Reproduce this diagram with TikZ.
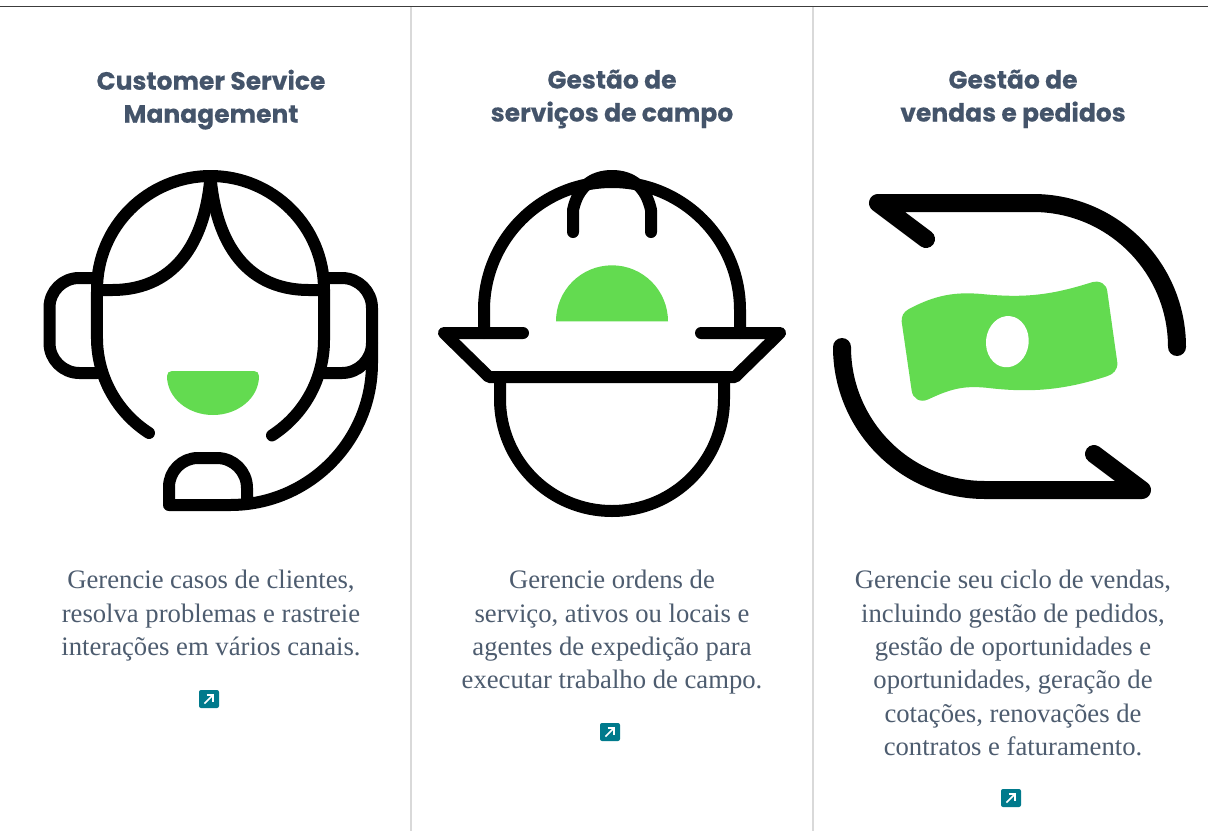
\documentclass[tikz,border=0pt]{standalone}
\usepackage{fontspec}
\setmainfont{Liberation Serif}
\newfontfamily\headfont{Poppins}[BoldFeatures={FakeBold=0.35}]
\definecolor{leaf}{HTML}{63DB50}
\definecolor{teal}{HTML}{007A8C}
\definecolor{headc}{HTML}{44546A}
\definecolor{bodyc}{HTML}{4D5C6F}
\definecolor{rulec}{HTML}{3C3C3C}
\definecolor{sepc}{HTML}{D9D9D9}
\tikzset{
  heading/.style={inner sep=0pt,anchor=north,align=center,text=headc,font=\headfont\bfseries\fontsize{25}{33}\selectfont},
  bodytext/.style={inner sep=0pt,anchor=north,align=center,text=bodyc,font=\fontsize{26.67}{33.4}\selectfont},
  thick icon/.style={line width=12pt,line cap=round,line join=round,draw=black},
  heavy icon/.style={line width=18pt,line cap=round,line join=round,draw=black},
  green shape/.style={fill=leaf,draw=none},
  badge/.style={fill=teal,draw=none,rounded corners=2pt},
  badge arrow/.style={draw=white,line width=1.7pt}
}
\newcommand{\linkbadge}[2]{%
  \fill[badge] (#1-10,#2-9) rectangle (#1+10,#2+9);
  \draw[badge arrow] (#1-4.5,#2+4.5) -- (#1+4,#2-4);
  \draw[badge arrow] (#1-2.5,#2-4) -- (#1+4,#2-4) -- (#1+4,#2+2.5);
}
\begin{document}
\begin{tikzpicture}[x=1pt,y=-1pt]
\useasboundingbox (0,0) rectangle (1208,831);
\fill[white] (0,0) rectangle (1208,831);
% rules
\draw[sepc,line width=1.5pt] (411,6) -- (411,831);
\draw[sepc,line width=1.5pt] (813,6) -- (813,831);
\draw[rulec,line width=1pt] (0,6.5) -- (1208,6.5);
% headings
\node[heading] (h1) at (211,69.5) {Customer Service\\Management};
\node[heading] (h2) at (612,69.5) {Gestão de\\serviços de campo};
\node[heading] (h3) at (1013,69.5) {Gestão de\\vendas e pedidos};
% bodies
\node[bodytext] (b1) at (211,570) {Gerencie casos de clientes,\\resolva problemas e rastreie\\interações em vários canais.};
\node[bodytext] (b2) at (612,570) {Gerencie ordens de\\serviço, ativos ou locais e\\agentes de expedição para\\executar trabalho de campo.};
\node[bodytext] (b3) at (1013,570) {Gerencie seu ciclo de vendas,\\incluindo gestão de pedidos,\\gestão de oportunidades e\\oportunidades, geração de\\cotações, renovações de\\contratos e faturamento.};
% badges
\linkbadge{209}{699}
\linkbadge{610}{732}
\linkbadge{1011}{798}
% icon 1: agent
\fill[green shape] (167,376) .. controls (167,373) and (169,371) .. (172,371) -- (254,371) .. controls (257,371) and (259,373) .. (259,376)
  .. controls (259,398) and (238,415) .. (213,415) .. controls (188,415) and (167,398) .. (167,376) -- cycle;
\draw[thick icon] (149,433) arc[start angle=122.8,end angle=180,radius=113.5] -- (97,289.5)
  arc[start angle=180,end angle=360,radius=113.5] -- (324,340) arc[start angle=0,end angle=57.2,radius=113.5];
\draw[thick icon] (97,290) -- (112,290) .. controls (180,290) and (206,235) .. (210.5,176);
\draw[thick icon] (324,290) -- (309,290) .. controls (241,290) and (215,235) .. (210.5,176);
\draw[thick icon] (97,278) -- (79,278) arc[start angle=270,end angle=180,radius=29.5] -- (49.5,343)
  arc[start angle=180,end angle=90,radius=30] -- (97,373);
\draw[thick icon] (324,278) -- (342,278) arc[start angle=270,end angle=360,radius=30] -- (372,343)
  arc[start angle=0,end angle=90,radius=30] -- (324,373);
\draw[thick icon] (372,343) -- (372,363) arc[start angle=0,end angle=90,radius=142] -- (169,505)
  -- (169,487) arc[start angle=180,end angle=270,radius=29] -- (217,458)
  arc[start angle=-90,end angle=0,radius=30] -- (247,502);
% icon 2: helmet
\fill[green shape] (556,321.3) arc[start angle=180,end angle=360,radius=56] -- cycle;
\draw[thick icon] (484,333) -- (484,310) arc[start angle=180,end angle=360,radius=128] -- (740,333);
\draw[thick icon] (523,333) -- (444,333) -- (489,377) -- (735,377) -- (780,333) -- (701,333);
\draw[thick icon] (500,377) -- (500,399) arc[start angle=180,end angle=0,radius=112] -- (724,377);
\draw[thick icon] (573,232) -- (573,210) .. controls (578,187) and (592,176) .. (612,176)
  .. controls (632,176) and (646,187) .. (651,210) -- (651,232);
% icon 3: money cycle
\draw[heavy icon] (926,239) -- (878,203) -- (1033,203) arc[start angle=270,end angle=360,radius=144];
\draw[heavy icon] (842,347) arc[start angle=180,end angle=90,radius=143] -- (1142,490) -- (1094,454);
\begin{scope}[shift={(825,180)},scale=1/3]
\fill[green shape] (250,388) .. controls (330,345) and (390,335) .. (470,342)
  .. controls (600,355) and (680,345) .. (800,307)
  .. controls (825,300) and (845,312) .. (847,335)
  -- (877,548) .. controls (878,570) and (865,582) .. (848,588)
  .. controls (720,630) and (620,638) .. (500,625)
  .. controls (420,615) and (380,625) .. (310,658)
  .. controls (285,670) and (263,655) .. (260,632)
  -- (230,425) .. controls (229,408) and (236,396) .. (250,388) -- cycle;
\fill[white,rotate around={-6:(547,485)}] (547,485) ellipse[x radius=64,y radius=77];
\end{scope}
\end{tikzpicture}
\end{document}
